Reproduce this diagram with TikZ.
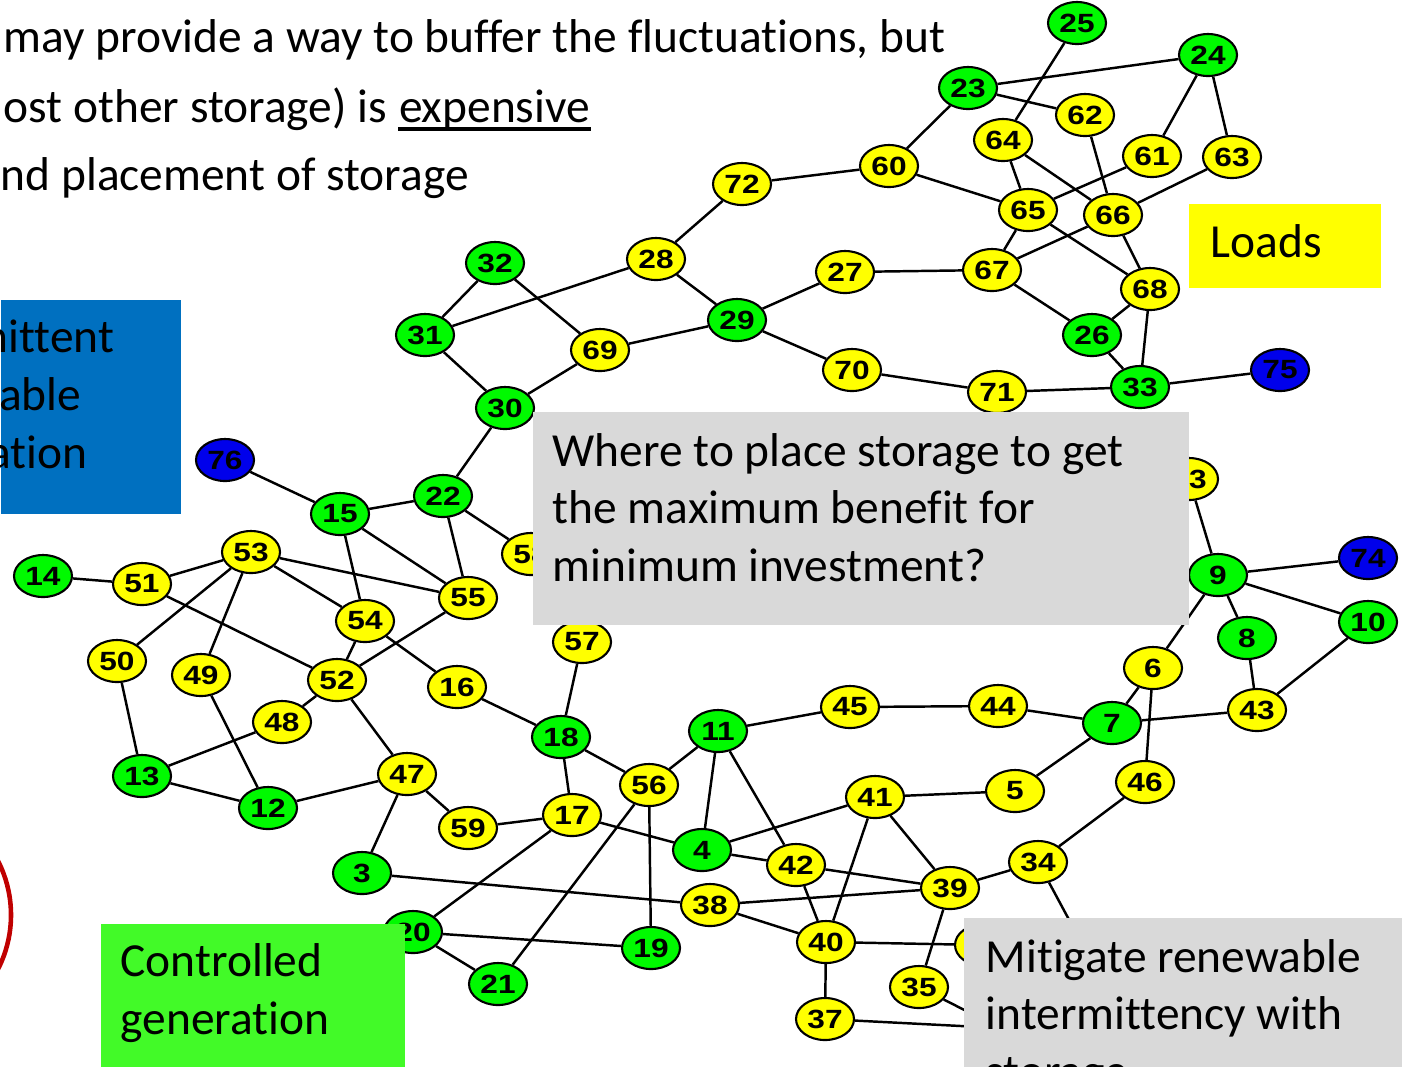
\documentclass[tikz,border=0pt]{standalone}
\usepackage{fontspec}
\setmainfont{Carlito}[Ligatures=NoCommon]
\newfontfamily\busfont[FakeStretch=1.2]{Liberation Sans}
\usepackage{tikz}
\usetikzlibrary{shapes.geometric,backgrounds}
\definecolor{busgreen}{RGB}{0,250,0}
\definecolor{busyellow}{RGB}{255,255,0}
\definecolor{busblue}{RGB}{0,0,235}
\definecolor{panelblue}{RGB}{0,112,192}
\definecolor{panelgreen}{RGB}{66,250,40}
\definecolor{panelgray}{RGB}{217,217,217}
\definecolor{ringred}{RGB}{192,0,0}
\tikzset{
  bus/.style    ={draw, ellipse, minimum width=5.8mm, minimum height=4.2mm,
                  inner sep=0pt, line width=0.6pt,
                  font=\busfont\bfseries\fontsize{7.5}{8}\selectfont},
  genbus/.style ={bus, fill=busgreen},
  ldbus/.style  ={bus, fill=busyellow},
  wndbus/.style ={bus, fill=busblue},
  tie/.style    ={line width=0.7pt},
  capt/.style   ={font=\fontsize{13.5}{16.35}\selectfont, inner sep=0pt,
                  align=left},
  panel/.style  ={anchor=north west, inner sep=0pt},
  ring/.style   ={draw=ringred, line width=1.3pt},
}

\begin{document}
\begin{tikzpicture}[x=0.1mm, y=-0.1mm]
\useasboundingbox (0,0) rectangle (1402,1066);
\clip (0,0) rectangle (1402,1066);
% slide text
\node[capt, anchor=base west] (topA) at (3,52)
  {may provide a way to buffer the fluctuations, but};
\node[capt, anchor=base west] (topB) at (3,122) {ost other storage) is};
\node[capt, anchor=base west] (topBx) at ([xshift=1.07mm]topB.base east)
  {expensive};
\draw[line width=0.4mm] ([yshift=-0.65mm]topBx.base west)
  -- ([yshift=-0.65mm]topBx.base east);
\node[capt, anchor=base west] (topC) at (0,190) {nd placement of storage};
% buses
\foreach \n/\x/\y in {25/1077/23, 24/1208/55, 23/968/88, 32/495/263,
    29/737/320, 31/425/335, 26/1092/335, 33/1140/387, 30/505/408,
    22/443/496, 15/340/514, 14/43/576, 9/1218/575, 10/1368/622,
    8/1247/638, 7/1112/723, 11/718/731, 18/561/737, 13/142/776,
    12/268/808, 4/702/850, 3/362/873, 20/413/932, 19/651/948, 21/498/984}
  \node[genbus] (b\n) at (\x,\y) {\n};
\foreach \n/\x/\y in {62/1085/115, 64/1003/140, 61/1152/156, 63/1232/157,
    60/889/166, 72/742/184, 65/1028/210, 66/1113/215, 28/656/259,
    27/845/272, 67/992/270, 68/1150/289, 69/600/350, 70/852/370,
    71/997/392, 58/531/554, 73/1189/479, 53/251/552, 51/142/584,
    55/468/598, 54/365/621, 57/582/642, 6/1153/668, 50/117/661,
    49/201/675, 52/337/680, 16/457/687, 43/1257/710, 45/850/707,
    44/998/706, 48/282/722, 47/407/774, 56/649/785, 46/1145/782,
    41/875/797, 5/1015/791, 17/572/815, 59/468/828, 42/796/865,
    34/1038/862, 39/950/888, 38/710/905, 40/826/942, 36/984/945,
    35/919/987, 37/825/1019}
  \node[ldbus] (b\n) at (\x,\y) {\n};
\foreach \n/\x/\y in {76/225/460, 75/1280/370, 74/1368/558}
  \node[wndbus] (b\n) at (\x,\y) {\n};
\coordinate (hidA) at (1000,1028);
\coordinate (hidB) at (1088,955);
% lines
\begin{pgfonlayer}{background}
\foreach \a/\b in {25/64, 23/24, 23/62, 23/60, 24/61, 24/63, 62/66, 64/65,
    64/66, 61/65, 63/66, 60/65, 65/67, 65/68, 66/67, 66/68, 67/27, 67/26,
    68/26, 68/33, 26/33, 33/75, 71/33, 70/71, 60/72, 72/28, 28/31, 28/29,
    32/31, 32/69, 31/30, 30/69, 69/29, 29/27, 29/70, 30/22, 76/15, 15/22,
    22/58, 22/55, 15/55, 15/54, 53/55, 53/54, 53/51, 51/14, 53/50, 53/49,
    51/52, 54/52, 55/52, 54/16, 52/48, 52/47, 49/12, 48/13, 50/13, 13/12,
    12/47, 47/59, 47/3, 16/18, 57/18, 59/17, 17/18, 18/56, 56/11, 17/4,
    17/20, 56/21, 56/19, 20/19, 20/21, 3/38, 11/4, 11/45, 45/44, 11/42,
    4/41, 4/42, 42/39, 42/40, 41/40, 41/39, 41/5, 38/39, 38/40, 40/36,
    39/35, 39/34, 40/37, 73/9, 9/74, 9/10, 9/8, 9/6, 8/43, 10/43, 6/7,
    6/46, 7/43, 44/7, 5/7, 46/34}
  \draw[tie] (b\a) -- (b\b);
\draw[tie] (b35) -- (hidA);
\draw[tie] (b37) -- (hidA);
\draw[tie] (b34) -- (hidB);
\end{pgfonlayer}
% boxes
\node[panel, fill=panelblue, minimum width=18mm, minimum height=21.4mm]
  (renew) at (0,299) {};
\node[capt, anchor=base east] (renewA) at (115,352) {nittent};
\node[capt, anchor=base east] (renewB) at (82,410) {rable};
\node[capt, anchor=base east] (renewC) at (88,468) {ation};
\node[panel, fill=busyellow, minimum width=19.2mm, minimum height=8.4mm]
  (loads) at (1188,203) {};
\node[capt, anchor=base west] (loadsT) at (1210,257) {Loads};
\node[panel, fill=panelgray, minimum width=65.6mm, minimum height=21.3mm]
  (ask) at (532,411) {};
\node[capt, anchor=base west] (askT) at (552,581)
  {Where to place storage to get\\the maximum benefit for\\minimum investment?};
\node[panel, fill=panelgreen, minimum width=30.4mm, minimum height=15mm]
  (ctrl) at (100,923) {};
\node[capt, anchor=base west] (ctrlT) at (120,1034) {Controlled\\generation};
\node[panel, fill=panelgray, minimum width=45mm, minimum height=16mm]
  (mitig) at (963,917) {};
\node[capt, anchor=base west] (mitigT) at (985,1087)
  {Mitigate renewable\\intermittency with\\storage};
\draw[ring] (-108,915) circle [radius=11.9mm];
\end{tikzpicture}
\end{document}
